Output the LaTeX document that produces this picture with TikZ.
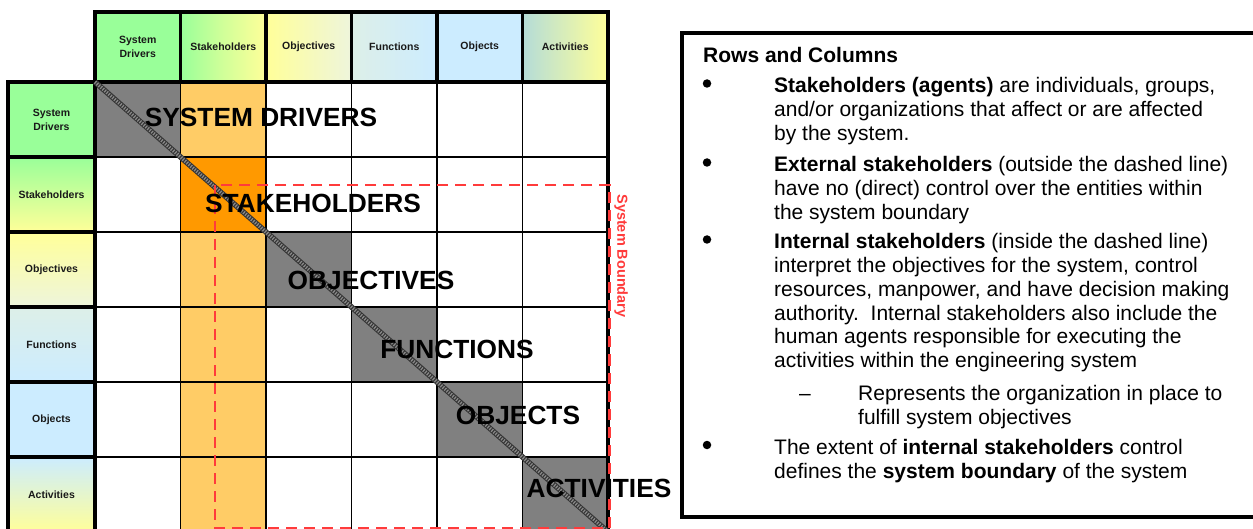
\documentclass[tikz,border=0pt]{standalone}
\usepackage{fontspec}
\setmainfont{Liberation Sans}
\definecolor{lgreen}{HTML}{99FF99}
\definecolor{lyellow}{HTML}{FFFF99}
\definecolor{lblue}{HTML}{CCECFF}
\definecolor{pale}{HTML}{EEF5DC}
\definecolor{palegb}{HTML}{DDEFE8}
\definecolor{tealg}{HTML}{B4DCD8}
\definecolor{dgray}{HTML}{808080}
\definecolor{orng}{HTML}{FF9900}
\definecolor{lorng}{HTML}{FFCC66}
\definecolor{bred}{HTML}{FF3B3B}
\definecolor{ropedark}{HTML}{353535}
\definecolor{ropelight}{HTML}{8A8A8A}
\tikzset{
  hdr/.style={font=\fontsize{10.5}{14}\selectfont\bfseries, align=center, inner sep=0pt, text=black!90},
  big/.style={font=\fontsize{26.3}{30}\selectfont\bfseries, inner sep=0pt},
  body/.style={font=\fontsize{21}{24}\selectfont, anchor=base west, inner sep=0pt},
  ttl/.style={font=\fontsize{21}{24}\selectfont\bfseries, anchor=base west, inner sep=0pt},
  bul/.style={circle, fill=black, inner sep=0pt, minimum size=8.5pt},
  gridthin/.style={line width=1.4pt, black},
  gridthick/.style={line width=3.5pt, black},
  boundary/.style={bred, line width=2.2pt, dash pattern=on 11pt off 7pt},
}
\begin{document}
\begin{tikzpicture}[x=1pt,y=-1pt]
\useasboundingbox (0,0) rectangle (1253,529);
\fill[white] (0,0) rectangle (1253,529);
% ---------- column header fills
\fill[lgreen] (95,12) rectangle (180.5,81);
\shade[left color=lgreen, right color=lyellow, middle color=lgreen!45!lyellow] (180.5,12) rectangle (266,81);
\shade[left color=lyellow, right color=pale] (266,12) rectangle (351.5,81);
\shade[left color=palegb, right color=lblue] (351.5,12) rectangle (437,81);
\fill[lblue] (437,12) rectangle (522.5,81);
\shade[left color=tealg, right color=lyellow] (522.5,12) rectangle (608,81);
% ---------- row header fills
\fill[lgreen] (8,82) rectangle (95,157);
\shade[top color=lgreen, bottom color=lyellow] (8,157) rectangle (95,232);
\shade[top color=lyellow, bottom color=pale] (8,232) rectangle (95,307);
\shade[top color=palegb, bottom color=lblue] (8,307) rectangle (95,382);
\fill[lblue] (8,382) rectangle (95,457);
\shade[top color=lblue, bottom color=lyellow] (8,457) rectangle (95,532);
% ---------- body fills
\fill[lorng] (180.5,82) rectangle (266,532);
\fill[orng] (180.5,157) rectangle (266,232);
\fill[dgray] (95,82) rectangle (180.5,157);
\fill[dgray] (266,232) rectangle (351.5,307);
\fill[dgray] (351.5,307) rectangle (437,382);
\fill[dgray] (437,382) rectangle (522.5,457);
\fill[dgray] (522.5,457) rectangle (608,532);
% ---------- thin grid lines
\foreach \x in {180.5,266,351.5,437,522.5} \draw[gridthin] (\x,82) -- (\x,532);
\foreach \y in {157,232,307,382,457} \draw[gridthin] (95,\y) -- (608,\y);
% ---------- thick borders
\foreach \x/\xx in {95/180.5,180.5/266,266/351.5,351.5/437,437/522.5,522.5/608}
  \draw[gridthick] (\x,12) rectangle (\xx,81.5);
\foreach \y/\yy in {82/157,157/232,232/307,307/382,382/457,457/532}
  \draw[gridthick] (8,\y) rectangle (95,\yy);
\draw[gridthick] (95,82) -- (608,82);
\draw[gridthick] (608,82) -- (608,532);
% ---------- diagonal rope
\draw[line width=5.5pt, ropedark] (95,82) -- (608,532);
\draw[line width=3.5pt, ropelight, dash pattern=on 1.2pt off 1.4pt] (95,82) -- (608,532);
% ---------- system boundary
\draw[boundary] (215,185) rectangle (609.5,528);
\node[font=\fontsize{14.5}{16}\selectfont\bfseries, text=bred, rotate=-90, inner sep=0pt] (sb) at (621,256) {System Boundary};
% ---------- header labels
\node[hdr] (h1) at (137.75,46.5) {System\\Drivers};
\node[hdr] (h2) at (223.25,46.5) {Stakeholders};
\node[hdr] (h3) at (308.75,46.5) {Objectives};
\node[hdr] (h4) at (394.25,46.5) {Functions};
\node[hdr] (h5) at (479.75,46.5) {Objects};
\node[hdr] (h6) at (565.25,46.5) {Activities};
\node[hdr] (r1) at (51.5,119.5) {System\\Drivers};
\node[hdr] (r2) at (51.5,194.5) {Stakeholders};
\node[hdr] (r3) at (51.5,269.5) {Objectives};
\node[hdr] (r4) at (51.5,344.5) {Functions};
\node[hdr] (r5) at (51.5,419.5) {Objects};
\node[hdr] (r6) at (51.5,494.5) {Activities};
% ---------- big diagonal labels
\node[big] (b1) at (261,117) {SYSTEM DRIVERS};
\node[big] (b2) at (313,203) {STAKEHOLDERS};
\node[big] (b3) at (371,280) {OBJECTIVES};
\node[big] (b4) at (457,349) {FUNCTIONS};
\node[big] (b5) at (518,415) {OBJECTS};
\node[big] (b6) at (599,488) {ACTIVITIES};
% ---------- text box
\draw[line width=4.5pt] (682,33) rectangle (1258,517);
\node[ttl] (t0) at (703,63) {Rows and Columns};
\node[bul] (u1) at (707,83.5) {};
\node[body] (l1) at (774,93) {\textbf{Stakeholders (agents)} are individuals, groups,};
\node[body] (l2) at (774,117) {and/or organizations that affect or are affected};
\node[body] (l3) at (774,141) {by the system.};
\node[bul] (u2) at (707,162.5) {};
\node[body] (l4) at (774,172) {\textbf{External stakeholders} (outside the dashed line)};
\node[body] (l5) at (774,196) {have no (direct) control over the entities within};
\node[body] (l6) at (774,220) {the system boundary};
\node[bul] (u3) at (707,239.5) {};
\node[body] (l7) at (774,249) {\textbf{Internal stakeholders} (inside the dashed line)};
\node[body] (l8) at (774,272.5) {interpret the objectives for the system, control};
\node[body] (l9) at (774,296.5) {resources, manpower, and have decision making};
\node[body] (l10) at (774,320) {authority.\ \ Internal stakeholders also include the};
\node[body] (l11) at (774,343.5) {human agents responsible for executing the};
\node[body] (l12) at (774,367) {activities within the engineering system};
\node[body] (d1) at (799,400) {–};
\node[body] (l13) at (858,400) {Represents the organization in place to};
\node[body] (l14) at (858,424) {fulfill system objectives};
\node[bul] (u4) at (707,445) {};
\node[body] (l15) at (774,454) {The extent of \textbf{internal stakeholders} control};
\node[body] (l16) at (774,478) {defines the \textbf{system boundary} of the system};
\end{tikzpicture}
\end{document}
